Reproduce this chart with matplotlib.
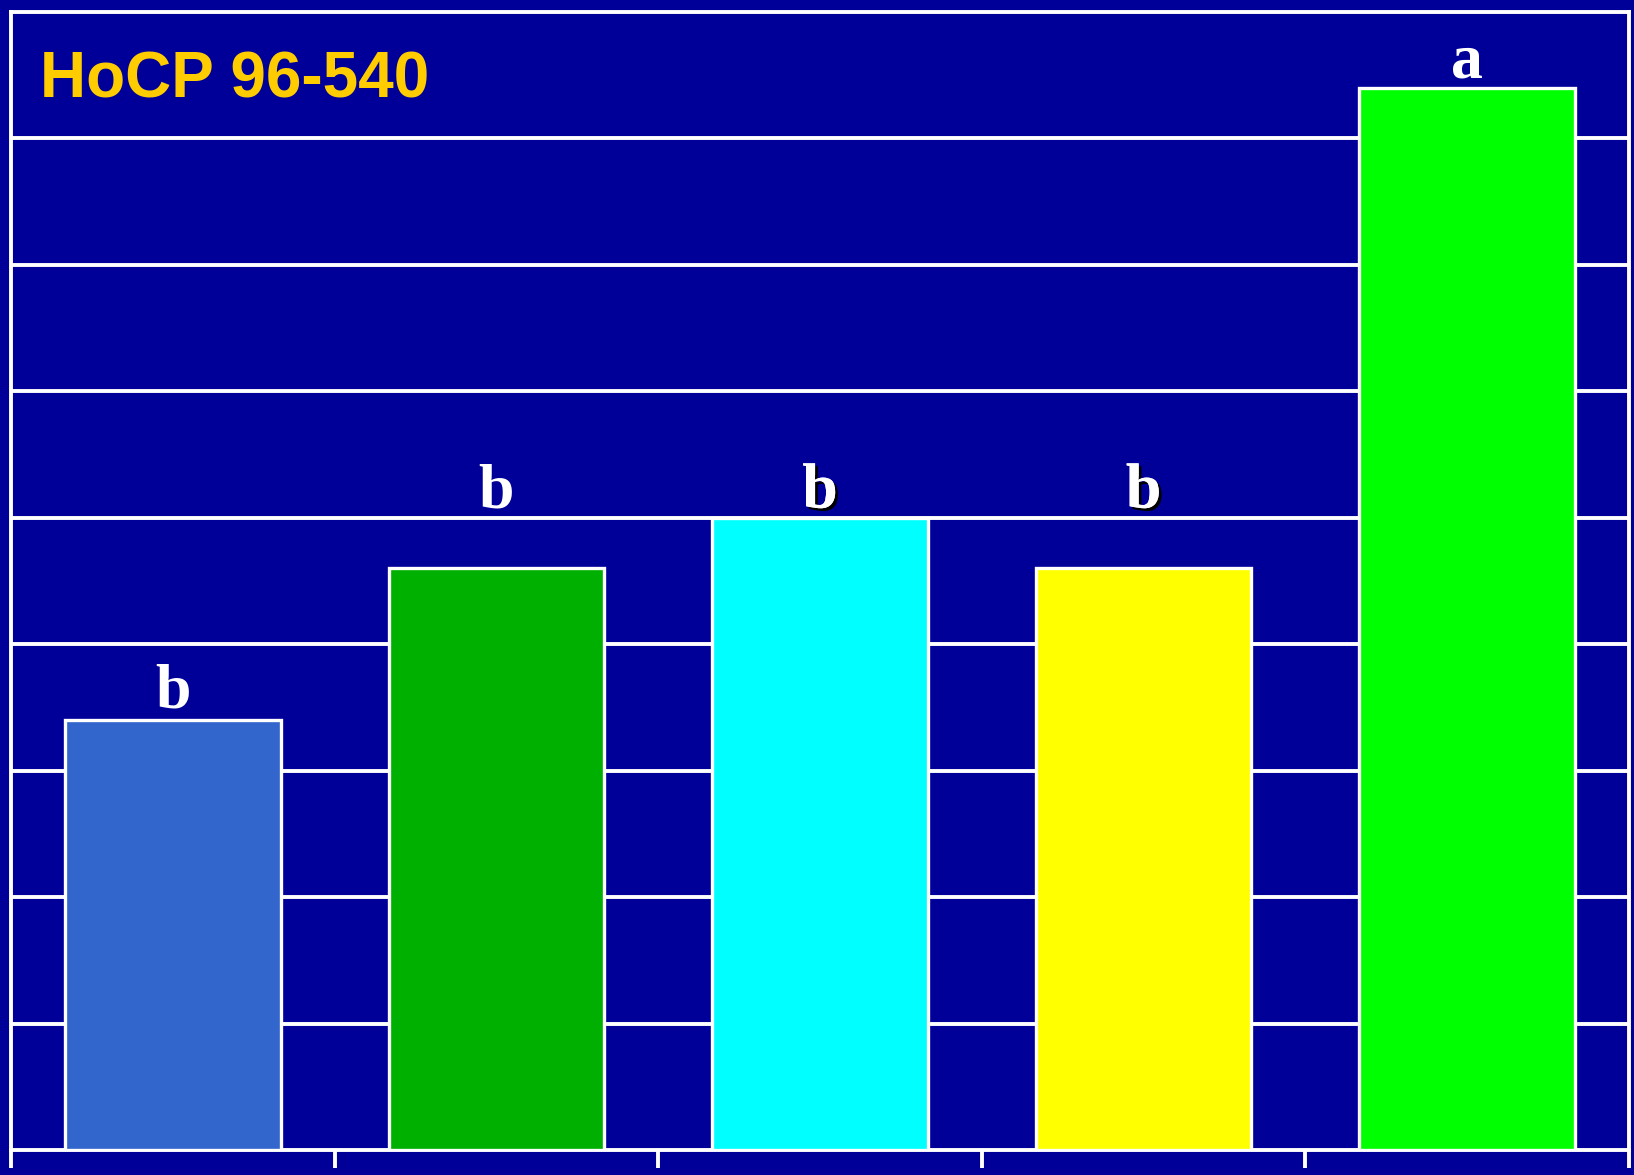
import matplotlib
matplotlib.use("Agg")
import matplotlib.pyplot as plt
import matplotlib.patheffects as pe

categories = ["T1", "T2", "T3", "T4", "T5"]
values = [34, 46, 50, 46, 84]
letters = ["b", "b", "b", "b", "a"]
letter_heights = [35.0, 50.8, 50.8, 50.8, 84.8]
bar_colors = ["#3366CC", "#00B000", "#00FFFF", "#FFFF00", "#00FF00"]
title = "HoCP 96-540"

BG = "#000099"
fig = plt.figure(figsize=(16.34, 11.75), dpi=100, facecolor=BG)
ax = fig.add_axes([11/1634, 1 - 1150/1175, 1618/1634, 1138/1175])
ax.set_facecolor(BG)

x = list(range(len(categories)))
ax.bar(x, values, width=2/3, color=bar_colors, edgecolor="white",
       linewidth=2.4, zorder=3)

ax.set_xlim(-0.5, len(categories) - 0.5)
ax.set_ylim(0, 90)
ax.set_yticks(range(10, 90, 10))
ax.yaxis.grid(True, color="white", linewidth=2.8, zorder=1)
ax.tick_params(axis="y", left=False, labelleft=False)
ax.set_xticks([i - 0.5 for i in range(len(categories) + 1)])
ax.tick_params(axis="x", direction="out", length=13, width=2.8,
               color="white", labelbottom=False)
for s in ax.spines.values():
    s.set_color("white")
    s.set_linewidth(2.8)

for i, (lt, h) in enumerate(zip(letters, letter_heights)):
    effects = None
    if i in (2, 3):
        effects = [pe.withSimplePatchShadow(offset=(2, -2), shadow_rgbFace="black", alpha=1.0), pe.Normal()]
    ax.text(i, h, lt, ha="center", va="baseline", color="white",
            fontsize=46, fontweight="bold", family="Liberation Serif",
            zorder=5, path_effects=effects)

fig.text(40/1634, 1 - 97/1175, title, color="#FFCC00", fontsize=46,
         fontweight="bold", family="Liberation Sans", ha="left", va="baseline")

fig.savefig("out.png", dpi=100, facecolor=BG)
